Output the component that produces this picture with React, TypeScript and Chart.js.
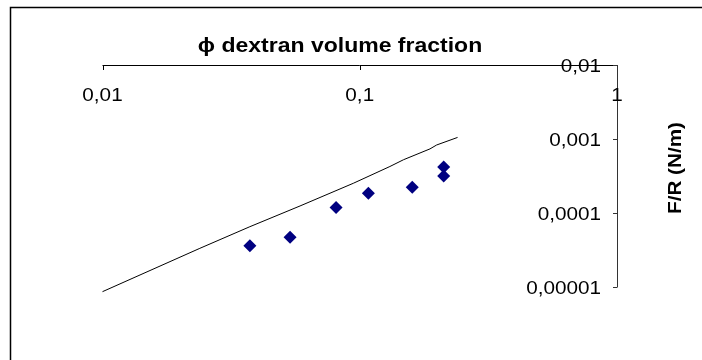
import { useEffect, useRef } from 'react';
import { Chart, registerables } from 'chart.js';

Chart.register(...registerables);

// Measured adhesion force per radius vs. dextran volume fraction
const volumeFraction = [0.0374, 0.0536, 0.0809, 0.108, 0.16, 0.212, 0.212];
const forcePerRadius = [3.61e-5, 4.7e-5, 1.19e-4, 1.85e-4, 2.22e-4, 4.19e-4, 3.16e-4];

// Model curve
const modelFraction = [0.01, 0.0239, 0.0374, 0.0586, 0.0944, 0.131, 0.148, 0.1875, 0.199, 0.24];
const modelForce = [8.65e-6, 3.33e-5, 6.53e-5, 1.245e-4, 2.52e-4, 4.25e-4, 5.25e-4, 7.35e-4, 8.3e-4, 1.05e-3];

const xTickValues = [0.01, 0.1, 1];
const xTickLabels = ['0,01', '0,1', '1'];
const yTickValues = [0.01, 0.001, 0.0001, 0.00001];
const yTickLabels = ['0,01', '0,001', '0,0001', '0,00001'];

const xTitle = 'ϕ dextran volume fraction';
const yTitle = 'F/R (N/m)';

const FONT = '"Liberation Sans", Arial, sans-serif';
const STRETCH = 1.15;

function stretchedText(
  ctx: CanvasRenderingContext2D,
  text: string,
  x: number,
  y: number,
  align: CanvasTextAlign,
  sx: number,
) {
  ctx.save();
  ctx.translate(x, y);
  ctx.scale(sx, 1);
  ctx.textAlign = align;
  ctx.textBaseline = 'alphabetic';
  ctx.fillText(text, 0, 0);
  ctx.restore();
}

const axesPlugin = {
  id: 'excelAxes',
  afterDraw(chart: any) {
    const ctx: CanvasRenderingContext2D = chart.ctx;
    const xs = chart.scales.x;
    const ys = chart.scales.y;
    const area = chart.chartArea;
    ctx.save();

    // outer frame
    ctx.strokeStyle = '#000';
    ctx.lineWidth = 1.5;
    ctx.strokeRect(10.5, 7.5, 700, 360);

    // x axis along the top, ticks pointing down
    ctx.lineWidth = 1;
    ctx.strokeStyle = '#000';
    ctx.beginPath();
    ctx.moveTo(area.left, area.top + 0.5);
    ctx.lineTo(area.right, area.top + 0.5);
    xTickValues.forEach((v) => {
      const px = Math.round(xs.getPixelForValue(v)) + 0.5;
      ctx.moveTo(px, area.top);
      ctx.lineTo(px, area.top + 5);
    });
    ctx.stroke();

    // y axis on the right, ticks pointing left
    ctx.strokeStyle = '#333';
    ctx.beginPath();
    ctx.moveTo(area.right + 0.5, area.top);
    ctx.lineTo(area.right + 0.5, area.bottom);
    yTickValues.forEach((v) => {
      const py = Math.round(ys.getPixelForValue(v)) + 0.5;
      ctx.moveTo(area.right - 4, py);
      ctx.lineTo(area.right + 0.5, py);
    });
    ctx.stroke();

    ctx.fillStyle = '#000';
    ctx.font = `18px ${FONT}`;
    xTickValues.forEach((v, i) => {
      stretchedText(ctx, xTickLabels[i], xs.getPixelForValue(v), area.top + 36, 'center', STRETCH);
    });
    yTickValues.forEach((v, i) => {
      stretchedText(ctx, yTickLabels[i], area.right - 16, ys.getPixelForValue(v) + 7, 'right', STRETCH);
    });

    ctx.font = `bold 20px ${FONT}`;
    stretchedText(ctx, xTitle, 340, 52, 'center', STRETCH);

    ctx.font = `bold 18px ${FONT}`;
    ctx.save();
    ctx.translate(681, (area.top + area.bottom) / 2 - 8);
    ctx.rotate(-Math.PI / 2);
    ctx.scale(STRETCH, 1);
    ctx.textAlign = 'center';
    ctx.textBaseline = 'alphabetic';
    ctx.fillText(yTitle, 0, 0);
    ctx.restore();

    ctx.restore();
  },
};

export default function App() {
  const canvasRef = useRef<HTMLCanvasElement>(null);

  useEffect(() => {
    const canvas = canvasRef.current;
    if (!canvas) return;
    const chart = new Chart(canvas, {
      type: 'scatter',
      data: {
        datasets: [
          {
            label: 'model',
            data: modelFraction.map((x, i) => ({ x, y: modelForce[i] })),
            showLine: true,
            borderColor: '#000',
            borderWidth: 1,
            pointRadius: 0,
            tension: 0,
            clip: false,
          },
          {
            label: 'F/R',
            data: volumeFraction.map((x, i) => ({ x, y: forcePerRadius[i] })),
            pointStyle: 'rectRot',
            pointRadius: 6.5,
            backgroundColor: '#000080',
            borderColor: '#000080',
            borderWidth: 0,
          },
        ],
      },
      options: {
        responsive: false,
        animation: false,
        devicePixelRatio: 1,
        layout: { padding: { left: 102.5, right: 85, top: 65, bottom: 73 } },
        scales: {
          x: { type: 'logarithmic', min: 0.01, max: 1, display: false },
          y: { type: 'logarithmic', min: 0.00001, max: 0.01, display: false },
        },
        plugins: {
          legend: { display: false },
          tooltip: { enabled: false },
        },
      },
      plugins: [axesPlugin],
    });
    return () => chart.destroy();
  }, []);

  return (
    <div style={{ position: 'fixed', left: 0, top: 0, width: 702, height: 360, background: '#fff' }}>
      <canvas ref={canvasRef} width={702} height={360} />
    </div>
  );
}
